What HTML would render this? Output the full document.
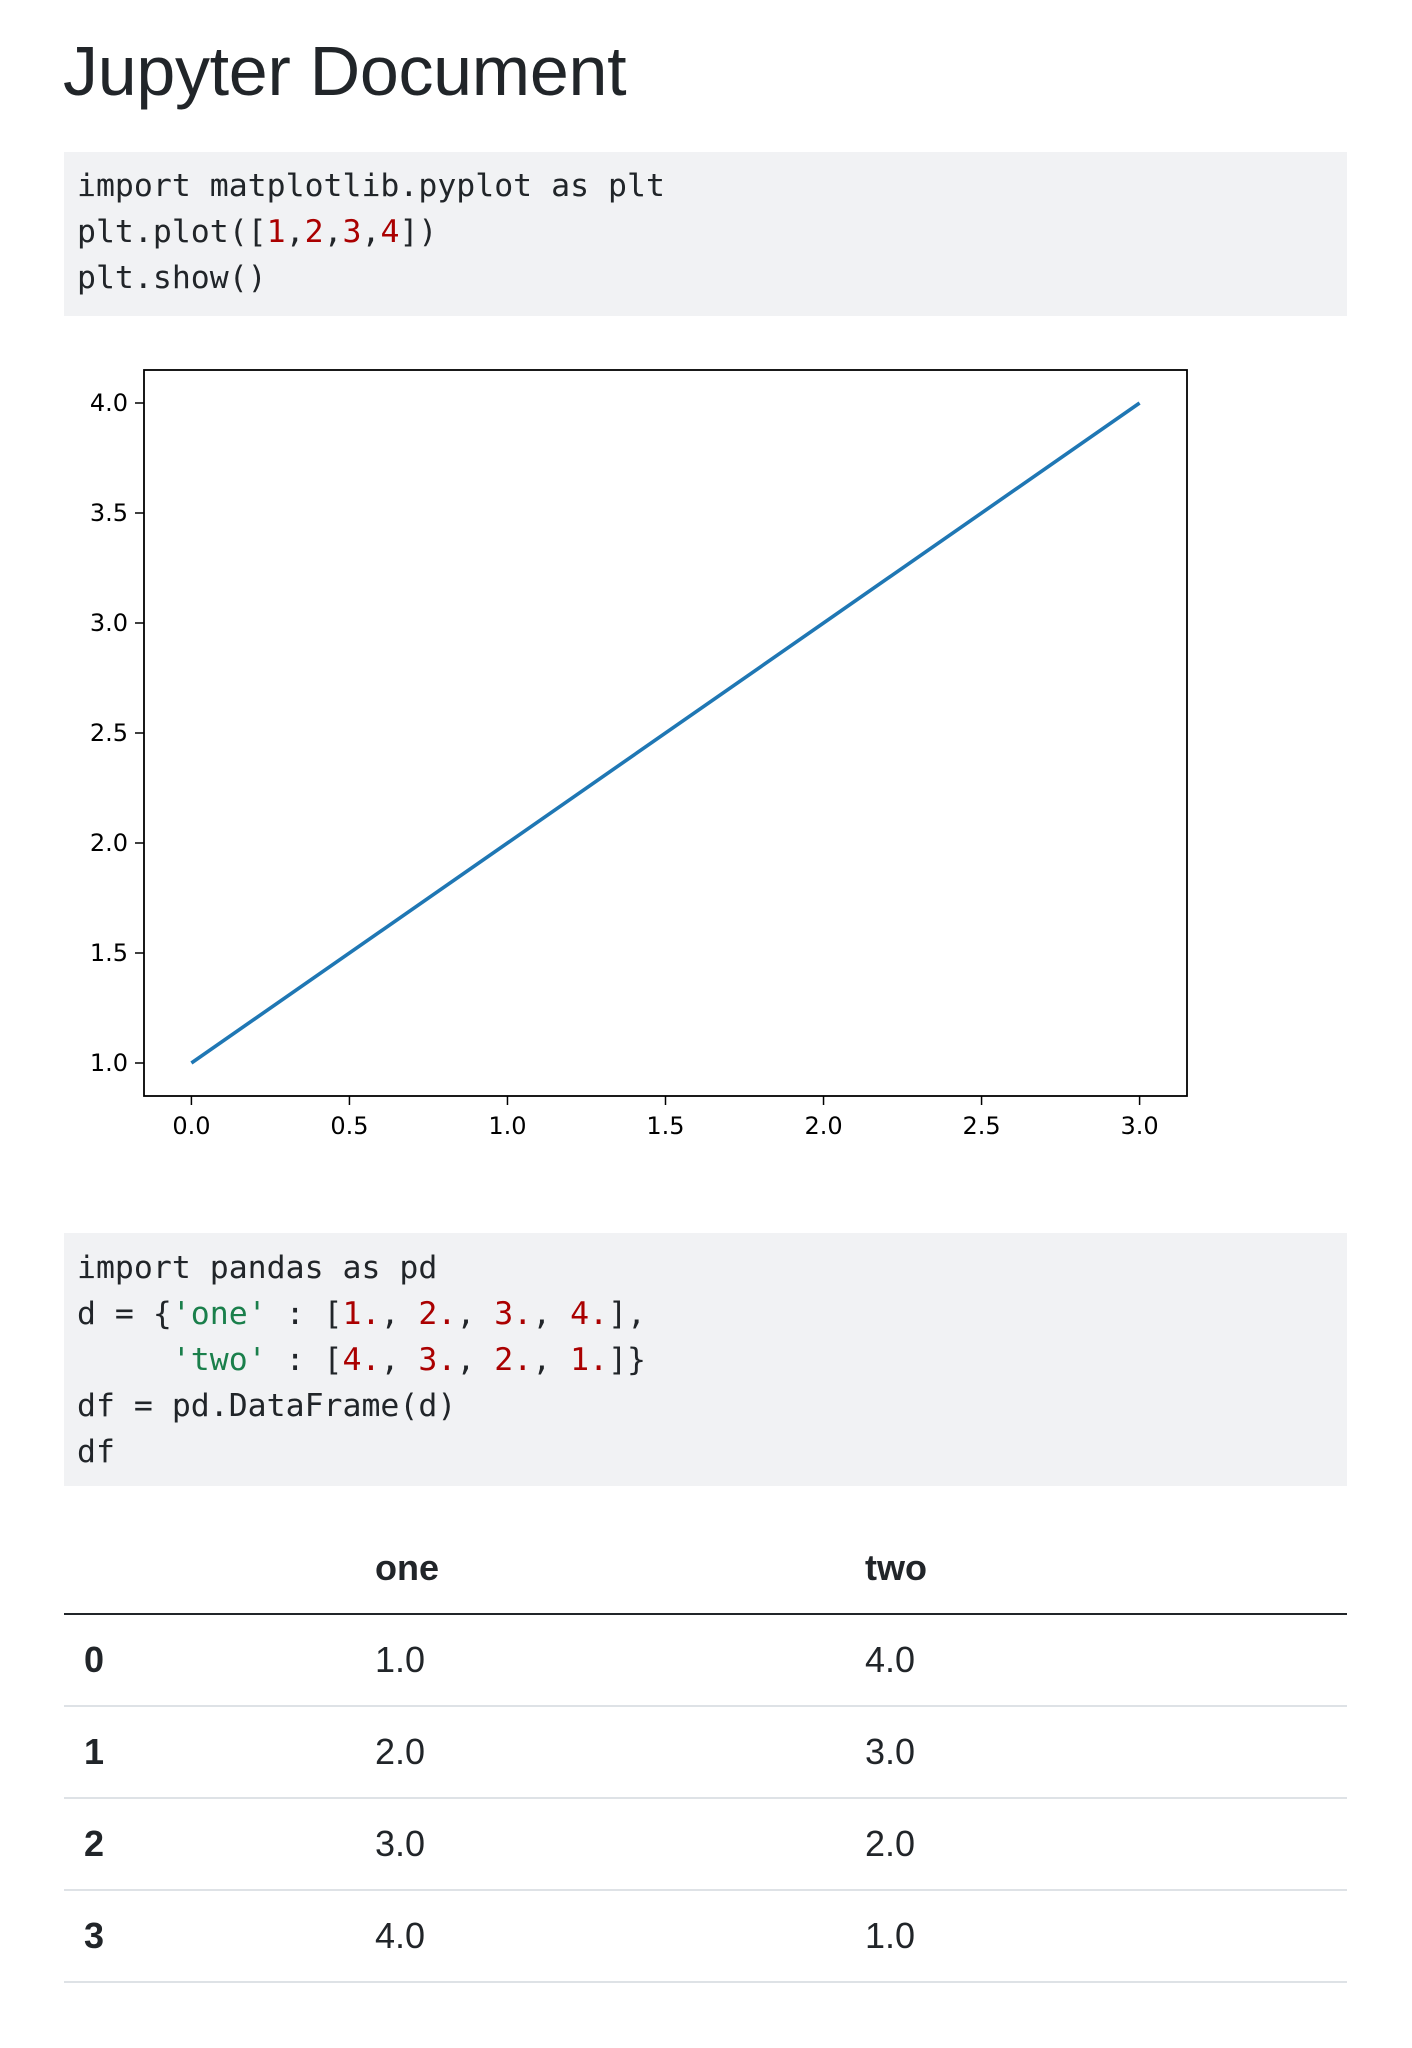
<!DOCTYPE html>
<html><head><meta charset="utf-8"><style>
body{margin:0;width:1412px;height:2048px;background:#fff;position:relative;font-family:"Liberation Sans",sans-serif;color:#212529}
.abs{position:absolute}
h1{position:absolute;left:63px;top:31px;margin:0;font-size:70px;font-weight:400;letter-spacing:-0.3px}
.code{position:absolute;left:64px;width:1283px;background:#f1f2f4;font-family:"DejaVu Sans Mono","Liberation Mono",monospace;font-size:31.5px;line-height:46px;white-space:pre;box-sizing:border-box;padding-left:13px}
.r{color:#aa0000}.g{color:#1a7f4b}
table{position:absolute;left:64px;top:1522px;width:1283px;border-collapse:collapse;font-size:36px;table-layout:fixed}
th,td{text-align:left;padding:0 0 0 20px;height:90px;border-bottom:2px solid #dee2e6}
thead th{border-bottom:2px solid #212529}
</style></head><body>
<h1>Jupyter Document</h1>
<div class="code" style="top:152px;height:164px;padding-top:11px">import matplotlib.pyplot as plt
plt.plot([<span class="r">1</span>,<span class="r">2</span>,<span class="r">3</span>,<span class="r">4</span>])
plt.show()</div>
<svg id="chart" class="abs" style="left:0;top:340px" width="1412" height="820"></svg>
<div class="code" style="top:1233px;height:253px;padding-top:12px">import pandas as pd
d = {<span class="g">'one'</span> : [<span class="r">1.</span>, <span class="r">2.</span>, <span class="r">3.</span>, <span class="r">4.</span>],
     <span class="g">'two'</span> : [<span class="r">4.</span>, <span class="r">3.</span>, <span class="r">2.</span>, <span class="r">1.</span>]}
df = pd.DataFrame(d)
df</div>
<table>
<colgroup><col style="width:291px"><col style="width:490px"><col></colgroup>
<thead><tr style="height:92px"><th></th><th>one</th><th>two</th></tr></thead>
<tbody>
<tr><th>0</th><td>1.0</td><td>4.0</td></tr>
<tr><th>1</th><td>2.0</td><td>3.0</td></tr>
<tr><th>2</th><td>3.0</td><td>2.0</td></tr>
<tr><th>3</th><td>4.0</td><td>1.0</td></tr>
</tbody></table>
<script>
const xValues=[0,1,2,3];
const yValues=[1,2,3,4];
const xTicks=[0,0.5,1,1.5,2,2.5,3];
const yTicks=[1,1.5,2,2.5,3,3.5,4];
const NS="http://www.w3.org/2000/svg";
const svg=document.getElementById('chart');
const L=144,R=1187,T=30,B=756;
const xmin=Math.min(...xValues),xmax=Math.max(...xValues),ymin=Math.min(...yValues),ymax=Math.max(...yValues);
const xpad=(xmax-xmin)*0.05,ypad=(ymax-ymin)*0.05;
const sx=v=>L+(v-(xmin-xpad))/((xmax+xpad)-(xmin-xpad))*(R-L);
const sy=v=>B-(v-(ymin-ypad))/((ymax+ypad)-(ymin-ypad))*(B-T);
function mk(t,a){const e=document.createElementNS(NS,t);for(const k in a)e.setAttribute(k,a[k]);svg.appendChild(e);return e;}
const frame=mk('rect',{x:L,y:T,width:R-L,height:B-T,fill:'none',stroke:'#000','stroke-width':1.8});


xTicks.forEach(v=>{const x=sx(v);
const t=mk('line',{x1:x,x2:x,y1:B,y2:B+9,stroke:'#000','stroke-width':1.5});


const l=mk('text',{x:x,y:B+38,'text-anchor':'middle','font-family':'DejaVu Sans,sans-serif','font-size':24,fill:'#000'});l.textContent=v.toFixed(1);

});
yTicks.forEach(v=>{const y=sy(v);
const t=mk('line',{x1:L-9,x2:L,y1:y,y2:y,stroke:'#000','stroke-width':1.5});


const l=mk('text',{x:L-16,y:y+8,'text-anchor':'end','font-family':'DejaVu Sans,sans-serif','font-size':24,fill:'#000'});l.textContent=v.toFixed(1);

});
const line=mk('polyline',{points:xValues.map((x,i)=>sx(x)+','+sy(yValues[i])).join(' '),fill:'none',stroke:'#1f77b4','stroke-width':3.6});


</script>
</body></html>
